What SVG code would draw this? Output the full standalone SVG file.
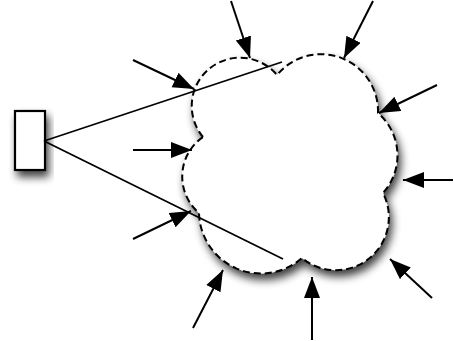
<svg xmlns="http://www.w3.org/2000/svg" width="454" height="341" viewBox="0 0 454 341">
  <style>
    .arrow { stroke: #000; stroke-width: 2; fill: none; marker-end: url(#ah); }
    .cloud { fill: #fff; stroke: #000; stroke-width: 2; stroke-dasharray: 7 4; }
    .box { fill: #fff; stroke: #000; stroke-width: 2.2; }
    .ray { stroke: #000; stroke-width: 1.8; fill: none; }
  </style>
  <defs>
    <filter id="shadow" x="-30%" y="-30%" width="160%" height="160%">
      <feGaussianBlur in="SourceAlpha" stdDeviation="4.5"/>
      <feOffset dx="3" dy="6" result="b"/>
      <feComponentTransfer><feFuncA type="linear" slope="0.75"/></feComponentTransfer>
      <feMerge><feMergeNode/><feMergeNode in="SourceGraphic"/></feMerge>
    </filter>
    <marker id="ah" markerUnits="userSpaceOnUse" markerWidth="24" markerHeight="18" refX="21" refY="8" orient="auto">
      <path d="M0,0 L21,8 L0,16 z" fill="#000"/>
    </marker>
  </defs>
  <rect width="454" height="341" fill="#fff"/>
  <g id="cloud">
    <path class="cloud" filter="url(#shadow)" d="M203,137 A48,48 0 0 1 277,75 A57,57 0 0 1 378,113 A56,56 0 0 1 383,193 A53,53 0 0 1 302,258 A62,62 0 0 1 199,213 A48,48 0 0 1 203,137 Z"/>
  </g>
  <g id="source">
    <rect class="box" x="15" y="111" width="30" height="59" filter="url(#shadow)"/>
  </g>
  <g id="connectors">
    <line class="ray" x1="44" y1="141" x2="282" y2="62"/>
    <line class="ray" x1="44" y1="141" x2="283" y2="259"/>
    <line class="arrow" x1="231" y1="1" x2="250" y2="58"/>
    <line class="arrow" x1="373" y1="1" x2="344" y2="58"/>
    <line class="arrow" x1="133" y1="60" x2="194" y2="89"/>
    <line class="arrow" x1="437" y1="85" x2="379" y2="113"/>
    <line class="arrow" x1="133" y1="150" x2="192" y2="150"/>
    <line class="arrow" x1="453" y1="180" x2="403" y2="180"/>
    <line class="arrow" x1="133" y1="239" x2="191" y2="211"/>
    <line class="arrow" x1="193" y1="328" x2="223" y2="270"/>
    <line class="arrow" x1="312" y1="340" x2="312" y2="277"/>
    <line class="arrow" x1="432" y1="298" x2="390" y2="259"/>
  </g>
</svg>
